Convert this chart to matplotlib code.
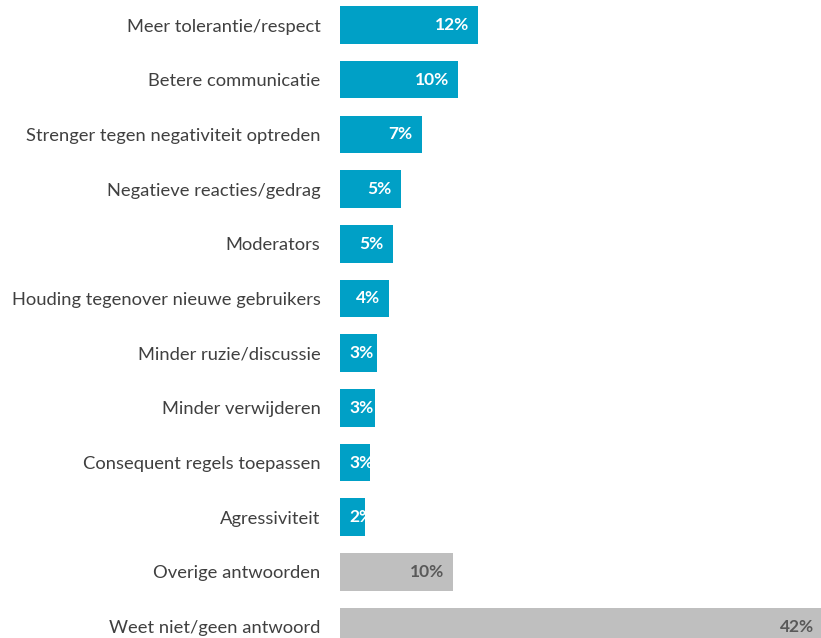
import matplotlib.pyplot as plt
from matplotlib.transforms import offset_copy

categories = ['Meer tolerantie/respect', 'Betere communicatie',
              'Strenger tegen negativiteit optreden', 'Negatieve reacties/gedrag',
              'Moderators', 'Houding tegenover nieuwe gebruikers',
              'Minder ruzie/discussie', 'Minder verwijderen',
              'Consequent regels toepassen', 'Agressiviteit',
              'Overige antwoorden', 'Weet niet/geen antwoord']
values = [12.0, 10.3, 7.1, 5.3, 4.6, 4.3, 3.2, 3.0, 2.6, 2.15, 9.8, 42.0]
labels = ['12%', '10%', '7%', '5%', '5%', '4%', '3%', '3%', '3%', '2%', '10%', '42%']

BLUE = '#00A0C6'
GREY = '#BFBFBF'
colors = [BLUE] * 10 + [GREY] * 2
label_colors = ['white'] * 10 + ['#595959'] * 2

plt.rcParams['font.family'] = ['Lato', 'DejaVu Sans']

fig = plt.figure(figsize=(8.21, 6.38), dpi=100)
ax = fig.add_axes([340 / 821, 0, 481 / 821, 1])

y = list(range(len(categories)))
ax.barh(y, values, height=0.686, color=colors)
xmax = 481 / 11.5
ax.set_xlim(0, xmax)
ax.set_ylim(11.209, -0.458)

# inside-end labels; short bars get the label pinned near the bar start
px = 11.5  # pixels per percent
fig.canvas.draw()
r = fig.canvas.get_renderer()
for yi, v, lab, c in zip(y, values, labels, label_colors):
    t = ax.text(0, yi, lab, ha='left', va='center', color=c, fontsize=12.5,
                fontweight='bold', clip_on=False)
    w = t.get_window_extent(r).width
    left = max(min(v, xmax + 0.4) * px - 9 - w, 9)
    t.set_x(left / px)

ax.set_yticks(y)
ax.set_yticklabels(categories, fontsize=13.2, color='#404040')
ax.tick_params(axis='y', length=0, pad=14)
ax.set_xticks([])
for s in ax.spines.values():
    s.set_visible(False)

fig.savefig('out.png', dpi=100)
